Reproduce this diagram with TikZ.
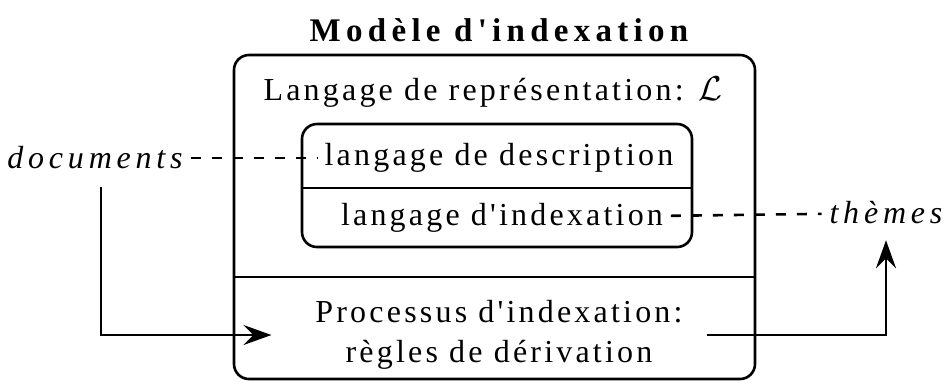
\documentclass[tikz,border=0pt]{standalone}
\usepackage{fontspec}
\setmainfont{Liberation Serif}[LetterSpace=10,Ligatures=TeXOff]
\usetikzlibrary{arrows.meta,positioning}

\begin{document}
\begin{tikzpicture}[x=0.5pt,y=-0.5pt,line width=1.3pt,
    every node/.style={font=\fontsize{16}{20}\selectfont},
    spaced/.style={font=\fontsize{16}{20}\selectfont\itshape\addfontfeature{LetterSpace=15}},
    box/.style={draw,rounded corners=7.5pt,inner sep=0pt},
    link/.style={dash pattern=on 5pt off 5.5pt},
    flow/.style={-{Stealth[length=14pt,width=10pt,inset=5pt]}}]
    \useasboundingbox (0,0) rectangle (943,382);
    %% Title
    \node[font=\fontsize{16.5}{20}\selectfont\bfseries\addfontfeature{LetterSpace=16}] (title) at (499,30) {Modèle d'indexation};
    %% Model and its language box
    \node[box,minimum width=260.5pt,minimum height=162pt] (model) at (494.5,217) {};
    \node[box,minimum width=195pt,minimum height=61.5pt] (lang) at (497,185.5) {};
    \draw (model.west |- 0,277) -- (model.east |- 0,277);
    \draw (lang.west |- 0,188) -- (lang.east |- 0,188);
    %% Texts
    \node (repr) at (493,92) {Langage de représentation: $\mathcal{L}$};
    \node (desc) at (499,158) {langage de description};
    \node (idx) at (502,218) {langage d'indexation};
    \node[align=center] (proc) at (499,335) {Processus d'indexation:\\règles de dérivation};
    \node[spaced] (docs) at (95,158) {documents};
    \node[spaced] (themes) at (886,213) {thèmes};
    %% Links
    \draw[link] (docs) -- (desc);
    \draw[link] (idx) -- (themes);
    \draw[flow,shorten <=5pt,shorten >=18pt] ([xshift=3pt]docs.south) |- (proc);
    \draw[flow,shorten <=8pt,shorten >=4pt] (proc) -| (themes);
\end{tikzpicture}
\end{document}
